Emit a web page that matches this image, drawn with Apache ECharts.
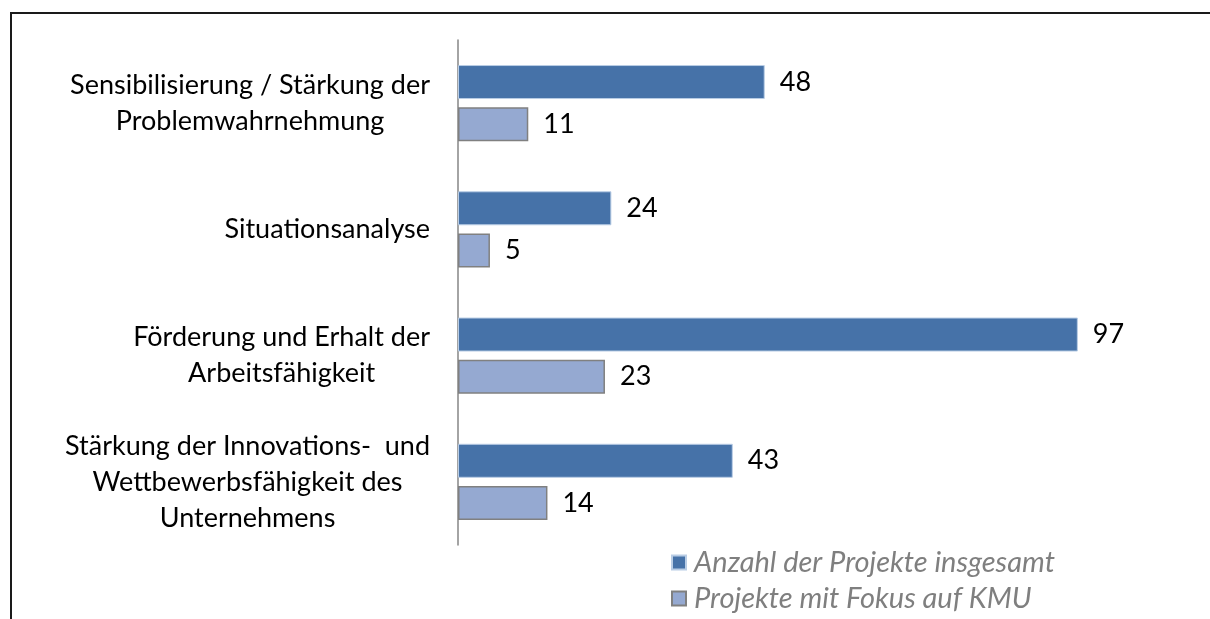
<!DOCTYPE html>
<html>
  <head>
    <meta charset="utf-8" />
    <title>Projekte nach Zielsetzung</title>
    <script src="https://cdn.jsdelivr.net/npm/echarts@6/dist/echarts.min.js"></script>
    <style>
      body {
        margin: 0;
        padding: 0;
        background: #fff;
      }
      #main {
        width: 1210px;
        height: 619px;
      }
    </style>
  </head>
  <body>
    <div id="main"></div>
    <script type="text/javascript">
      var categories = [
        "Sensibilisierung / Stärkung der\nProblemwahrnehmung",
        "Situationsanalyse",
        "Förderung und Erhalt der\nArbeitsfähigkeit",
        "Stärkung der Innovations-  und\nWettbewerbsfähigkeit des\nUnternehmens",
      ];
      var seriesNames = [
        "Anzahl der Projekte insgesamt",
        "Projekte mit Fokus auf KMU",
      ];
      var totalValues = [48, 24, 97, 43];
      var kmuValues = [11, 5, 23, 14];

      var fontFam = "Lato, 'Open Sans', sans-serif";
      var myChart = echarts.init(document.getElementById("main"));

      var option = {
        animation: false,
        backgroundColor: "#fff",
        textStyle: { fontFamily: fontFam },
        // Rahmen oben und links
        graphic: [
          {
            type: "polyline",
            shape: { points: [[11, 619], [11, 13], [1210, 13]] },
            style: { stroke: "#1a1a1a", lineWidth: 2, fill: null },
          },
        ],
        grid: { left: 458, top: 40, right: 113, bottom: 74 },
        legend: {
          orient: "vertical",
          left: 671,
          top: 548,
          padding: 0,
          icon: "rect",
          itemWidth: 14,
          itemHeight: 14,
          itemGap: 7,
          textStyle: {
            color: "#7f7f7f",
            fontStyle: "italic",
            fontSize: 29,
            fontFamily: fontFam,
            padding: [0, 0, 0, 3],
          },
          data: seriesNames,
        },
        xAxis: {
          type: "value",
          min: 0,
          max: 100,
          show: false,
        },
        yAxis: {
          type: "category",
          inverse: true,
          data: categories,
          axisLine: { lineStyle: { color: "#868686", width: 1.5 } },
          axisTick: { show: false },
          axisLabel: {
            margin: 28,
            color: "#000",
            fontSize: 27,
            lineHeight: 36,
            formatter: function (value) {
              return value
                .split("\n")
                .map(function (l) {
                  return "{c|" + l + "}";
                })
                .join("\n");
            },
            rich: {
              c: {
                align: "center",
                fontSize: 27,
                lineHeight: 36,
                color: "#000",
                fontFamily: fontFam,
              },
            },
          },
        },
        series: [
          {
            name: seriesNames[0],
            type: "bar",
            data: totalValues,
            barWidth: 34,
            barGap: "24%",
            itemStyle: {
              color: "#4672a8",
              borderColor: "#b9cde5",
              borderWidth: 1,
            },
            label: {
              show: true,
              position: "right",
              distance: 15,
              color: "#000",
              fontSize: 27,
              fontFamily: fontFam,
            },
          },
          {
            name: seriesNames[1],
            type: "bar",
            data: kmuValues,
            barWidth: 34,
            barGap: "24%",
            itemStyle: {
              color: "#95a9d1",
              borderColor: "#808080",
              borderWidth: 1.5,
            },
            label: {
              show: true,
              position: "right",
              distance: 15,
              color: "#000",
              fontSize: 27,
              fontFamily: fontFam,
            },
          },
        ],
      };

      myChart.setOption(option);
    </script>
  </body>
</html>
